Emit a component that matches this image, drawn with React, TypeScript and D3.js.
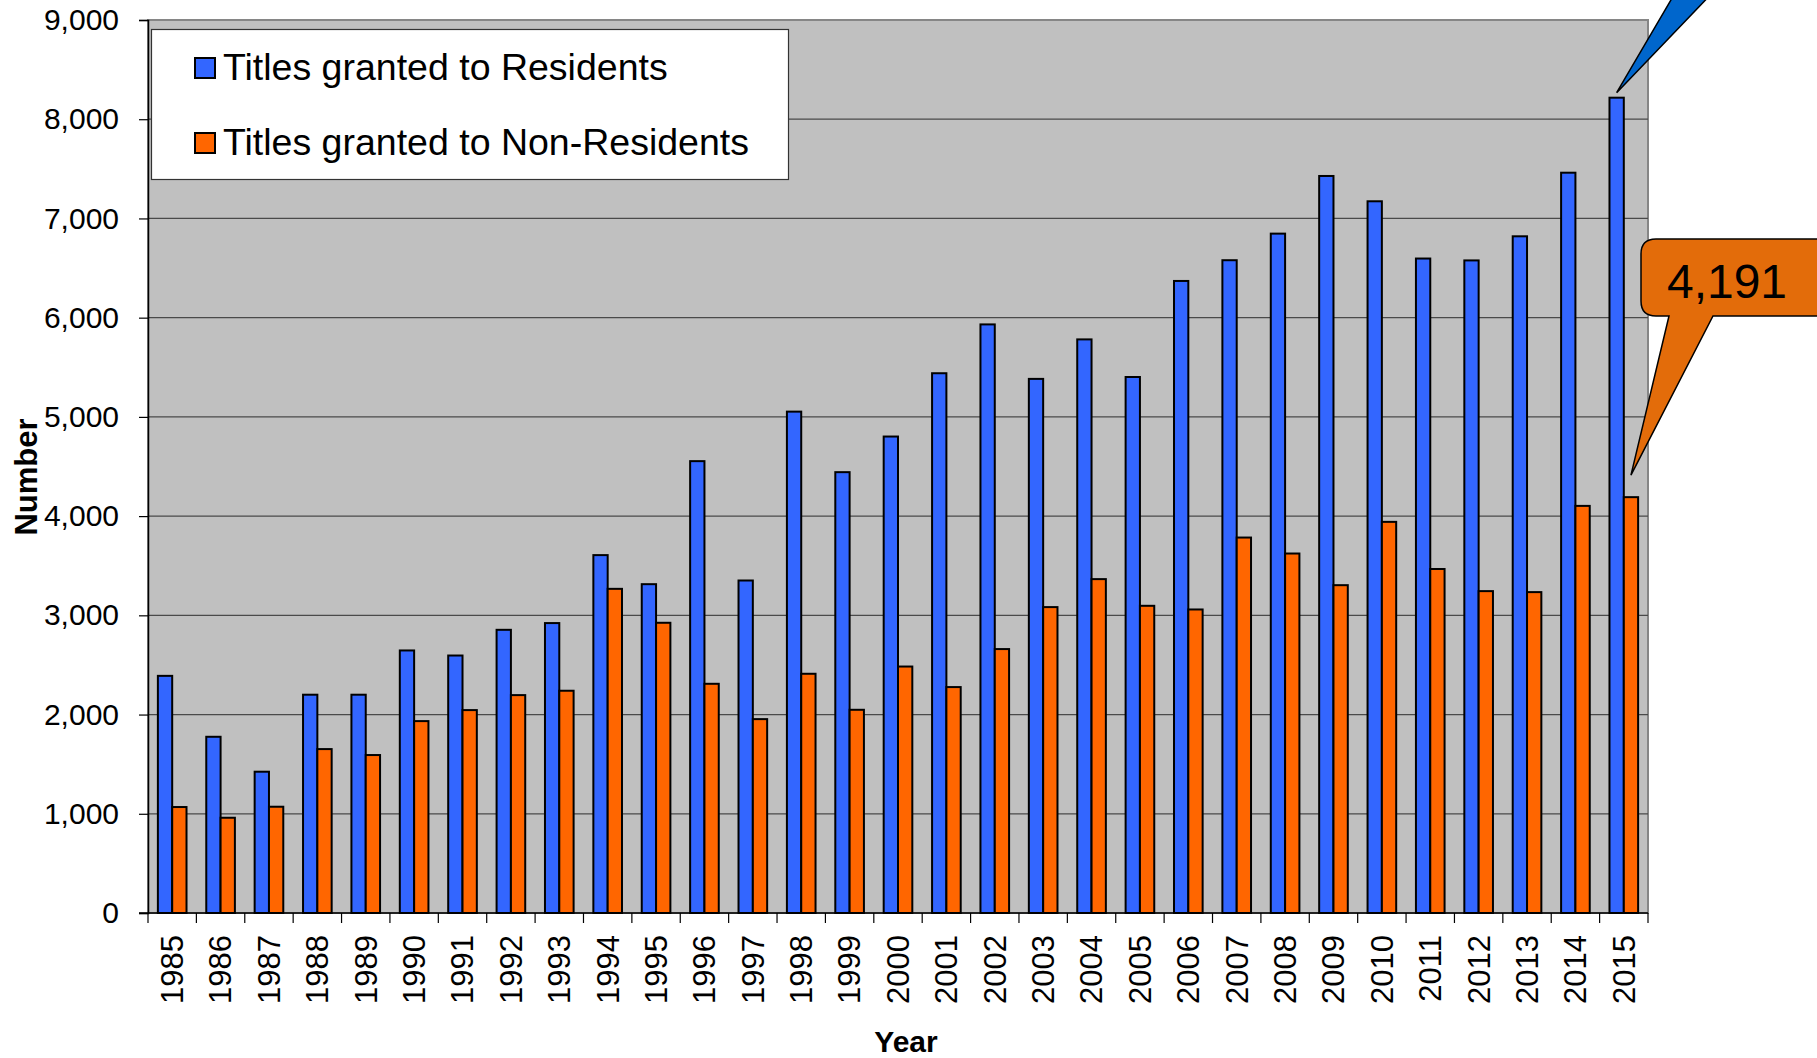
import React, { useEffect, useRef } from "react";
import * as d3 from "d3";

const years = [
  "1985", "1986", "1987", "1988", "1989", "1990", "1991", "1992", "1993", "1994",
  "1995", "1996", "1997", "1998", "1999", "2000", "2001", "2002", "2003", "2004",
  "2005", "2006", "2007", "2008", "2009", "2010", "2011", "2012", "2013", "2014", "2015",
];

const residents = [
  2390, 1776, 1424, 2200, 2200, 2646, 2595, 2854, 2922, 3607,
  3314, 4554, 3351, 5053, 4443, 4802, 5440, 5932, 5383, 5781,
  5402, 6370, 6579, 6847, 7428, 7173, 6596, 6577, 6820, 7461, 8217,
];

const nonResidents = [
  1068, 960, 1071, 1652, 1592, 1934, 2045, 2196, 2240, 3267,
  2925, 2310, 1954, 2411, 2048, 2484, 2277, 2660, 3083, 3365,
  3096, 3059, 3784, 3623, 3304, 3942, 3467, 3244, 3234, 4103, 4191,
];

const seriesNames = ["Titles granted to Residents", "Titles granted to Non-Residents"];
const yTicks = [0, 1000, 2000, 3000, 4000, 5000, 6000, 7000, 8000, 9000];
const calloutLabel = "4,191";

const W = 1817;
const H = 1058;
const FONT = "'Liberation Sans', Arial, sans-serif";

export default function App() {
  const ref = useRef<SVGSVGElement | null>(null);

  useEffect(() => {
    if (!ref.current) return;
    const svg = d3.select(ref.current);
    svg.selectAll("*").remove();

    const left = 148, right = 1648, top = 20, bottom = 913;

    const x = d3.scaleBand<string>().domain(years).range([left, right]).padding(0);
    const xSub = d3.scaleBand<string>()
      .domain(["res", "non"])
      .range([0, x.bandwidth()])
      .paddingInner(0)
      .paddingOuter(0.69);
    const y = d3.scaleLinear().domain([0, 9000]).range([bottom, top]);

    // plot background
    svg.append("rect")
      .attr("x", left).attr("y", top)
      .attr("width", right - left).attr("height", bottom - top)
      .attr("fill", "#c0c0c0")
      .attr("stroke", "#868686")
      .attr("stroke-width", 2);

    // gridlines
    svg.append("g")
      .selectAll("line")
      .data(yTicks.filter(d => d > 0 && d < 9000))
      .join("line")
      .attr("x1", left).attr("x2", right)
      .attr("y1", d => y(d)).attr("y2", d => y(d))
      .attr("stroke", "#4a4a4a")
      .attr("stroke-width", 1.2);

    // bars
    const groups = svg.append("g")
      .selectAll("g")
      .data(years.map((yr, i) => ({ yr, res: residents[i], non: nonResidents[i] })))
      .join("g")
      .attr("transform", d => `translate(${x(d.yr)},0)`);

    groups.append("rect")
      .attr("x", xSub("res")!)
      .attr("width", xSub.bandwidth())
      .attr("y", d => y(d.res))
      .attr("height", d => y(0) - y(d.res))
      .attr("fill", "#3366ff")
      .attr("stroke", "#000")
      .attr("stroke-width", 2);

    groups.append("rect")
      .attr("x", xSub("non")!)
      .attr("width", xSub.bandwidth())
      .attr("y", d => y(d.non))
      .attr("height", d => y(0) - y(d.non))
      .attr("fill", "#ff6600")
      .attr("stroke", "#000")
      .attr("stroke-width", 2);

    // y axis
    const yAxis = svg.append("g")
      .attr("transform", `translate(${left},0)`)
      .call(d3.axisLeft(y).tickValues(yTicks).tickSize(9).tickPadding(20).tickFormat(d3.format(",")));
    yAxis.select(".domain").attr("stroke", "#000").attr("stroke-width", 1.5);
    yAxis.selectAll(".tick line").attr("stroke", "#000").attr("stroke-width", 1.2);
    yAxis.selectAll("text")
      .attr("font-family", FONT)
      .attr("font-size", 30)
      .attr("fill", "#000");

    // x axis line + ticks at category boundaries
    svg.append("line")
      .attr("x1", left - 9).attr("x2", right)
      .attr("y1", bottom).attr("y2", bottom)
      .attr("stroke", "#000").attr("stroke-width", 1.5);
    const boundaries = years.map(yr => x(yr)!).concat([right]);
    svg.append("g")
      .selectAll("line")
      .data(boundaries)
      .join("line")
      .attr("x1", d => d).attr("x2", d => d)
      .attr("y1", bottom).attr("y2", bottom + 10)
      .attr("stroke", "#000").attr("stroke-width", 1.2);

    svg.append("g")
      .selectAll("text")
      .data(years)
      .join("text")
      .attr("transform", d => `translate(${x(d)! + x.bandwidth() / 2},${bottom + 22}) rotate(-90)`)
      .attr("dy", "0.35em")
      .attr("text-anchor", "end")
      .attr("font-family", FONT)
      .attr("font-size", 31)
      .attr("fill", "#000")
      .text(d => d);

    // axis titles
    svg.append("text")
      .attr("transform", `translate(37,477) rotate(-90)`)
      .attr("text-anchor", "middle")
      .attr("font-family", FONT)
      .attr("font-size", 31)
      .attr("font-weight", "bold")
      .text("Number");

    svg.append("text")
      .attr("x", 906).attr("y", 1052)
      .attr("text-anchor", "middle")
      .attr("font-family", FONT)
      .attr("font-size", 30)
      .attr("font-weight", "bold")
      .text("Year");

    // legend
    const lg = svg.append("g");
    lg.append("rect")
      .attr("x", 151.5).attr("y", 29.5)
      .attr("width", 637).attr("height", 150)
      .attr("fill", "#fff")
      .attr("stroke", "#333")
      .attr("stroke-width", 1.2);
    const legendColors = ["#3366ff", "#ff6600"];
    seriesNames.forEach((name, i) => {
      const cy = 68 + i * 75;
      lg.append("rect")
        .attr("x", 195).attr("y", cy - 10)
        .attr("width", 20).attr("height", 20)
        .attr("fill", legendColors[i])
        .attr("stroke", "#000").attr("stroke-width", 2);
      lg.append("text")
        .attr("x", 223).attr("y", cy + 12)
        .attr("font-family", FONT)
        .attr("font-size", 37.5)
        .attr("fill", "#000")
        .text(name);
    });

    // blue callout pointer (box is outside the picture)
    const last = years[years.length - 1];
    const bx = x(last)! + xSub("res")! + xSub.bandwidth() / 2;
    const by = y(residents[residents.length - 1]) - 5;
    svg.append("path")
      .attr("d", `M${bx},${by} L${bx + 66},${-20} L${bx + 108},${-20} Z`)
      .attr("fill", "#0066cc")
      .attr("stroke", "#000")
      .attr("stroke-width", 1.5);

    // orange callout
    const ox = x(last)! + xSub("non")! + xSub.bandwidth() / 2;
    const oy = y(nonResidents[nonResidents.length - 1]) - 22;
    const bxL = 1641, bxR = 1830, byT = 239, byB = 316, r = 15;
    const pA = 1669, pB = 1713;
    svg.append("path")
      .attr("d",
        `M${bxL + r},${byT} L${bxR - r},${byT} Q${bxR},${byT} ${bxR},${byT + r} ` +
        `L${bxR},${byB - r} Q${bxR},${byB} ${bxR - r},${byB} ` +
        `L${pB},${byB} L${ox},${oy} L${pA},${byB} ` +
        `L${bxL + r},${byB} Q${bxL},${byB} ${bxL},${byB - r} ` +
        `L${bxL},${byT + r} Q${bxL},${byT} ${bxL + r},${byT} Z`)
      .attr("fill", "#e36c0a")
      .attr("stroke", "#000")
      .attr("stroke-width", 1.5);
    svg.append("text")
      .attr("x", 1727).attr("y", 298)
      .attr("text-anchor", "middle")
      .attr("font-family", FONT)
      .attr("font-size", 48)
      .attr("fill", "#000")
      .text(calloutLabel);
  }, []);

  return (
    <svg
      ref={ref}
      width={W}
      height={H}
      style={{ position: "absolute", left: 0, top: 0, display: "block", background: "#fff" }}
    ></svg>
  );
}
